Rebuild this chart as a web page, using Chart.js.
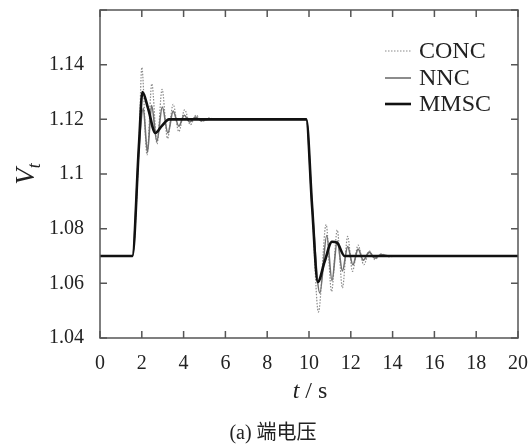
<!DOCTYPE html>
<html>
<head>
<meta charset="utf-8">
<script src="https://cdn.jsdelivr.net/npm/chart.js@4.4.1/dist/chart.umd.min.js"></script>
<style>
  body { margin: 0; background: #fff; }
</style>
</head>
<body>
<canvas id="vt" width="529" height="447"></canvas>
<script>
// values (t in s, Vt in p.u.)
let concT = [0, 1.55, 1.86, 2.0, 2.25, 2.48, 2.73, 2.97, 3.23, 3.5, 3.77, 4.05, 4.32, 4.6, 4.88, 5.2, 5.6, 9.87, 10.15, 10.45, 10.82, 11.08, 11.35, 11.6, 11.85, 12.08, 12.35, 12.62, 12.9, 13.15, 13.45, 13.8, 14.2, 20];
let concV = [1.07, 1.07, 1.109, 1.139, 1.107, 1.133, 1.111, 1.131, 1.113, 1.1255, 1.1155, 1.1235, 1.118, 1.1215, 1.1192, 1.1205, 1.12, 1.12, 1.088, 1.0495, 1.0815, 1.057, 1.0795, 1.0583, 1.0772, 1.0644, 1.074, 1.0668, 1.0718, 1.0687, 1.0708, 1.0697, 1.07, 1.07];

let nncT = [0, 1.55, 1.86, 2.07, 2.27, 2.47, 2.72, 2.98, 3.25, 3.5, 3.77, 4.03, 4.3, 4.57, 4.85, 5.2, 9.87, 10.15, 10.52, 10.85, 11.1, 11.35, 11.6, 11.85, 12.1, 12.35, 12.6, 12.88, 13.15, 13.45, 13.85, 20];
let nncV = [1.07, 1.07, 1.109, 1.124, 1.108, 1.125, 1.112, 1.1245, 1.115, 1.123, 1.1175, 1.1215, 1.119, 1.1208, 1.1195, 1.12, 1.12, 1.088, 1.0565, 1.0775, 1.061, 1.0755, 1.0645, 1.0735, 1.0668, 1.0725, 1.0685, 1.0714, 1.0692, 1.0705, 1.07, 1.07];

let mmscT = [0, 1.55, 1.86, 2.03, 2.3, 2.65, 2.95, 3.3, 9.87, 10.15, 10.42, 10.75, 11.1, 11.35, 11.7, 20];
let mmscV = [1.07, 1.07, 1.11, 1.13, 1.124, 1.115, 1.1175, 1.12, 1.12, 1.088, 1.0605, 1.068, 1.0752, 1.0748, 1.07, 1.07];

let seriesNames = ["CONC", "NNC", "MMSC"];

const serif = '"Liberation Serif", "Times New Roman", serif';
const ink = "#222";
const frame = "#555";

function points(ts, vs) {
  let out = [];
  for (let i = 0; i < ts.length; i++) {
    out.push({ x: ts[i], y: vs[i] });
  }
  return out;
}

// frame box, inward ticks, legend, axis titles and caption
const decor = {
  id: "decor",
  afterDraw(chart) {
    const c = chart.ctx;
    const a = chart.chartArea;
    const xs = chart.scales.x;
    const ys = chart.scales.y;
    const tl = 7;
    c.save();
    c.strokeStyle = frame;
    c.lineWidth = 1.5;
    c.strokeRect(a.left, a.top, a.right - a.left, a.bottom - a.top);
    c.beginPath();
    xs.ticks.forEach(t => {
      const px = xs.getPixelForValue(t.value);
      c.moveTo(px, a.bottom); c.lineTo(px, a.bottom - tl);
      c.moveTo(px, a.top); c.lineTo(px, a.top + tl);
    });
    ys.ticks.forEach(t => {
      const py = ys.getPixelForValue(t.value);
      c.moveTo(a.left, py); c.lineTo(a.left + tl, py);
      c.moveTo(a.right, py); c.lineTo(a.right - tl, py);
    });
    c.stroke();

    // legend
    const rows = [51, 78, 104];
    c.font = "24px " + serif;
    c.textBaseline = "middle";
    c.textAlign = "left";
    chart.data.datasets.forEach((ds, i) => {
      c.beginPath();
      c.strokeStyle = ds.borderColor;
      c.lineWidth = ds.borderWidth;
      c.setLineDash(ds.borderDash || []);
      c.moveTo(385, rows[i]); c.lineTo(411, rows[i]);
      c.stroke();
      c.setLineDash([]);
      c.fillStyle = ink;
      c.fillText(ds.label, 419, rows[i] + 1);
    });

    // x title: t / s
    c.fillStyle = ink;
    c.textBaseline = "middle";
    c.font = "italic 24px " + serif;
    const wT = c.measureText("t").width;
    c.font = "24px " + serif;
    const wRest = c.measureText(" / s").width;
    let x0 = 310 - (wT + wRest) / 2;
    c.font = "italic 24px " + serif;
    c.fillText("t", x0, 392);
    c.font = "24px " + serif;
    c.fillText(" / s", x0 + wT, 392);

    // y title: V_t rotated
    c.save();
    c.translate(27, 174);
    c.rotate(-Math.PI / 2);
    c.font = "italic 27px " + serif;
    const wV = c.measureText("V").width;
    c.font = "italic 18px " + serif;
    const wt = c.measureText("t").width;
    const s0 = -(wV + wt) / 2;
    c.font = "italic 27px " + serif;
    c.fillText("V", s0, 0);
    c.font = "italic 18px " + serif;
    c.fillText("t", s0 + wV, 8);
    c.restore();

    // caption
    c.textAlign = "center";
    c.font = '20px "Liberation Serif", "Noto Sans CJK SC", serif';
    c.fillText("(a) 端电压", 273, 434);
    c.restore();
  }
};

new Chart(document.getElementById("vt"), {
  type: "line",
  data: {
    datasets: [
      {
        label: seriesNames[0],
        data: points(concT, concV),
        borderColor: "#8a8a8a",
        borderWidth: 1.2,
        borderDash: [1.5, 1.5],
        order: 3,
      },
      {
        label: seriesNames[1],
        data: points(nncT, nncV),
        borderColor: "#707070",
        borderWidth: 1.6,
        order: 2,
      },
      {
        label: seriesNames[2],
        data: points(mmscT, mmscV),
        borderColor: "#111",
        borderWidth: 2.6,
        order: 1,
      },
    ],
  },
  options: {
    responsive: false,
    animation: false,
    devicePixelRatio: 1,
    layout: { padding: { left: 0, top: 10, right: 11, bottom: 0 } },
    elements: {
      point: { radius: 0 },
      line: { fill: false, cubicInterpolationMode: "monotone" },
    },
    plugins: {
      legend: { display: false },
      tooltip: { enabled: false },
    },
    scales: {
      x: {
        type: "linear",
        min: 0,
        max: 20,
        grid: { display: false },
        border: { display: false },
        ticks: {
          stepSize: 2,
          padding: 6,
          color: ink,
          font: { family: serif, size: 20 },
          maxRotation: 0,
        },
        afterFit(s) {
          s.height = 447 - 338;
          s.paddingLeft = 0;
          s.paddingRight = 0;
        },
      },
      y: {
        min: 1.04,
        max: 1.16,
        grid: { display: false },
        border: { display: false },
        ticks: {
          stepSize: 0.02,
          padding: 8,
          color: ink,
          font: { family: serif, size: 20 },
          callback: v => (Math.abs(v - 1.16) < 1e-6 ? "" : String(Number(v.toFixed(2)))),
        },
        afterFit(s) {
          s.width = 100;
          s.paddingTop = 0;
          s.paddingBottom = 0;
        },
      },
    },
  },
  plugins: [decor],
});
</script>
</body>
</html>
